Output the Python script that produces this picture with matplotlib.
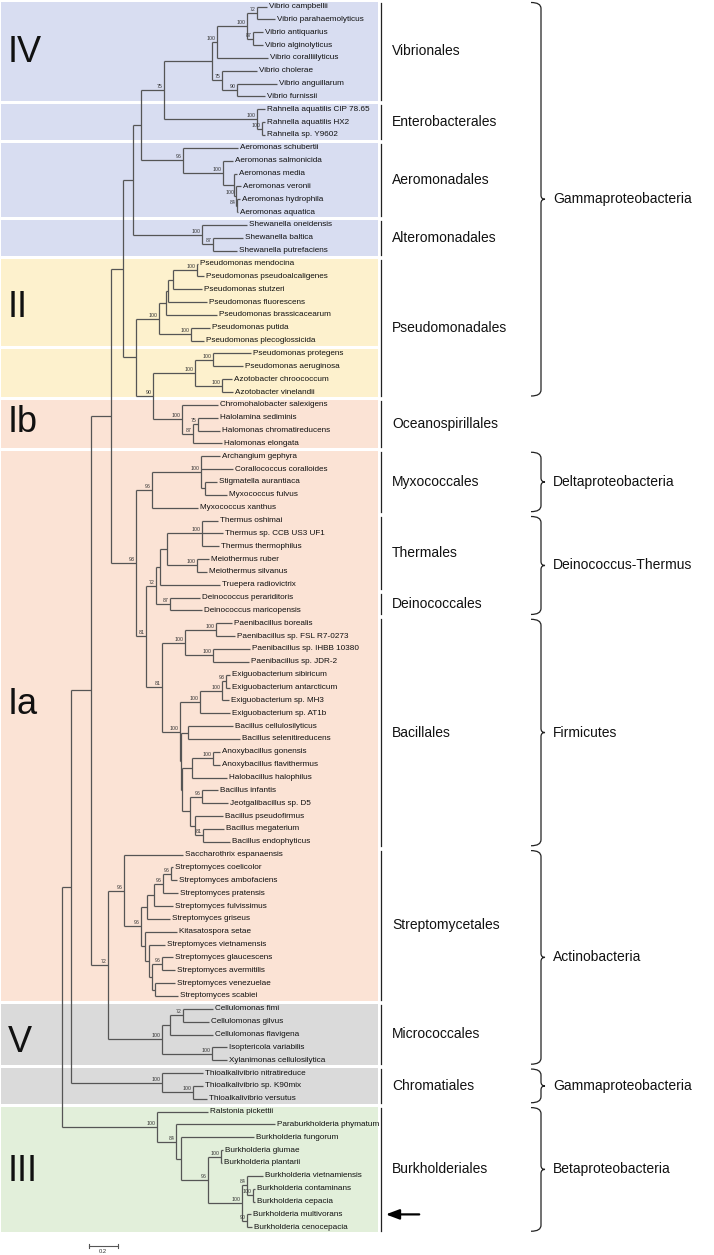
"""
Phylogenetic tree with order / class annotations (MEGA-style layout).
"""
import matplotlib
matplotlib.use("Agg")
import matplotlib.pyplot as plt
from matplotlib.collections import LineCollection
from matplotlib.patches import Rectangle, PathPatch
from matplotlib.path import Path

plt.rcParams["font.family"] = ["Liberation Sans", "DejaVu Sans"]

# ──────────────────────────────────────────────────────────────────────
# Tree data (Newick, branch lengths in substitutions/site, bootstrap as node labels)
# ──────────────────────────────────────────────────────────────────────

VIBRIONALES = ("((((Vibrio campbellii:0.070,Vibrio parahaemolyticus:0.126)72:0.070,"
               "(Vibrio antiquarius:0.070,Vibrio alginolyticus:0.070)87:0.042)100:0.210,"
               "Vibrio coralliilyticus:0.357)100:0.035,(Vibrio cholerae:0.245,"
               "(Vibrio anguillarum:0.280,Vibrio furnissii:0.196)90:0.105)75:0.070)")
ENTEROBACTERALES = ("(Rahnella aquatilis CIP 78.65:0.056,(Rahnella aquatilis HX2:0.021,"
                    "Rahnella sp. Y9602:0.021)100:0.035)")
AEROMONADALES = ("(Aeromonas schubertii:0.385,(Aeromonas salmonicida:0.070,(Aeromonas media:0.021,"
                 "(Aeromonas veronii:0.035,(Aeromonas hydrophila:0.021,Aeromonas aquatica:0.007)84:0.007)"
                 "100:0.014):0.077)100:0.280)")
ALTEROMONADALES = ("(Shewanella oneidensis:0.315,(Shewanella baltica:0.210,"
                   "Shewanella putrefaciens:0.168)87:0.077)")
PSEUDOMONADALES_1 = ("(((((Pseudomonas mendocina:0.007,Pseudomonas pseudoalcaligenes:0.049)100:0.168,"
                     "Pseudomonas stutzeri:0.203):0.035,Pseudomonas fluorescens:0.273):0.014,"
                     "Pseudomonas brassicacearum:0.357):0.049,(Pseudomonas putida:0.133,"
                     "Pseudomonas plecoglossicida:0.091)100:0.224)")
PSEUDOMONADALES_2 = ("((Pseudomonas protegens:0.266,Pseudomonas aeruginosa:0.210)100:0.126,"
                     "(Azotobacter chroococcum:0.070,Azotobacter vinelandii:0.077)100:0.189)")
OCEANOSPIRILLALES = ("(Chromohalobacter salexigens:0.252,((Halolamina sediminis:0.140,"
                     "Halomonas chromatireducens:0.154)75:0.035,Halomonas elongata:0.203)87:0.077)")
MYXOCOCCALES = ("((Archangium gephyra:0.133,Corallococcus coralloides:0.224,(Stigmatella aurantiaca:0.084,"
                "Myxococcus fulvus:0.154):0.028)100:0.343,Myxococcus xanthus:0.322)")
THERMALES = ("(((Thermus oshimai:0.112,Thermus sp. CCB US3 UF1:0.147,Thermus thermophilus:0.119)100:0.245,"
             "(Meiothermus ruber:0.084,Meiothermus silvanus:0.070)100:0.210):0.049,"
             "Truepera radiovictrix:0.420)")
DEINOCOCCALES = "(Deinococcus perariditoris:0.210,Deinococcus maricopensis:0.224)"
BACILLALES = ("(((Paenibacillus borealis:0.112,Paenibacillus sp. FSL R7-0273:0.133)100:0.217,"
              "(Paenibacillus sp. IHBB 10380:0.259,Paenibacillus sp. JDR-2:0.252)100:0.196)100:0.161,"
              "((((Exiguobacterium sibiricum:0.028,Exiguobacterium antarcticum:0.028)93:0.028,"
              "Exiguobacterium sp. MH3:0.049)100:0.154,Exiguobacterium sp. AT1b:0.210)100:0.140,"
              "((Bacillus cellulosilyticus:0.315,Bacillus selenitireducens:0.364):0.049,"
              "(((Anoxybacillus gonensis:0.049,Anoxybacillus flavithermus:0.049)100:0.147,"
              "Halobacillus halophilus:0.245):0.070,((Bacillus infantis:0.112,"
              "Jeotgalibacillus sp. D5:0.182)96:0.084,(Bacillus pseudofirmus:0.196,"
              "(Bacillus megaterium:0.147,Bacillus endophyticus:0.189)81:0.056):0.035):0.056):0.007)"
              ":0.007)100:0.126)")
STREPTOMYCETALES = ("(Saccharothrix espanaensis:0.413,(((((Streptomyces coelicolor:0.014,"
                    "Streptomyces ambofaciens:0.042)96:0.056,Streptomyces pratensis:0.105)96:0.063,"
                    "Streptomyces fulvissimus:0.133):0.049,Streptomyces griseus:0.161):0.042,"
                    "(Kitasatospora setae:0.224,(Streptomyces vietnamensis:0.112,"
                    "((Streptomyces glaucescens:0.077,Streptomyces avermitilis:0.091)96:0.070,"
                    "(Streptomyces venezuelae:0.140,Streptomyces scabiei:0.161):0.021):0.021):0.028)"
                    ":0.028)96:0.119)")
MICROCOCCALES = ("(((Cellulomonas fimi:0.210,Cellulomonas gilvus:0.182)72:0.091,"
                 "Cellulomonas flavigena:0.301):0.056,(Isoptericola variabilis:0.105,"
                 "Xylanimonas cellulosilytica:0.105)100:0.350)")
CHROMATIALES = ("(Thioalkalivibrio nitratireduce:0.287,(Thioalkalivibrio sp. K90mix:0.070,"
                "Thioalkalivibrio versutus:0.098)100:0.217)")
BURKHOLDERIALES = ("(Ralstonia pickettii:0.357,(Paraburkholderia phymatum:0.693,"
                   "(Burkholderia fungorum:0.511,((Burkholderia glumae:0.014,"
                   "Burkholderia plantarii:0.007)100:0.091,((Burkholderia vietnamiensis:0.112,"
                   "(Burkholderia contaminans:0.014,Burkholderia cepacia:0.014)100:0.042)84:0.035,"
                   "(Burkholderia multivorans:0.028,Burkholderia cenocepacia:0.035)90:0.035)"
                   "100:0.238)96:0.189):0.035)84:0.133)")

# backbone joining the orders
N164 = f"({VIBRIONALES}:0.336,{ENTEROBACTERALES}100:0.651)75"
N141 = f"({N164}:0.161,{AEROMONADALES}96:0.294)"
N133 = f"({N141}:0.056,{ALTEROMONADALES}100:0.483)"
N136 = f"({PSEUDOMONADALES_1}100:0.161,({PSEUDOMONADALES_2}100:0.294,{OCEANOSPIRILLALES}100:0.203)90:0.119)"
N123 = f"({N133}:0.070,{N136}:0.091)"
N156 = f"({THERMALES}:0.028,{DEINOCOCCALES}87:0.098)72"
N146 = f"({N156}:0.070,{BACILLALES}81:0.112)81"
N93 = f"({MYXOCOCCALES}96:0.112,{N146}:0.070)93"
N111 = f"({N123}:0.084,{N93}:0.175)"
N108 = f"({STREPTOMYCETALES}96:0.112,{MICROCOCCALES}100:0.378)72"
N91 = f"({N111}:0.140,{N108}:0.119)"
N71 = f"({N91}:0.140,{CHROMATIALES}100:0.637)"
TREE = f"({N71}:0.063,{BURKHOLDERIALES}100:0.665);"

# order blocks: (name, first leaf, last leaf)
ORDERS = ["Vibrionales", "Enterobacterales", "Aeromonadales", "Alteromonadales", "Pseudomonadales",
          "Oceanospirillales", "Myxococcales", "Thermales", "Deinococcales", "Bacillales",
          "Streptomycetales", "Micrococcales", "Chromatiales", "Burkholderiales"]
ORDER_FIRST = [0, 8, 11, 17, 20, 31, 35, 40, 46, 48, 66, 78, 83, 86]
ORDER_LAST = [7, 10, 16, 19, 30, 34, 39, 45, 47, 65, 77, 82, 85, 95]

CLASSES = ["Gammaproteobacteria", "Deltaproteobacteria", "Deinococcus-Thermus", "Firmicutes",
           "Actinobacteria", "Gammaproteobacteria", "Betaproteobacteria"]
CLASS_FIRST = [0, 35, 40, 48, 66, 83, 86]
CLASS_LAST = [30, 39, 47, 65, 82, 85, 95]

# shaded boxes (first leaf, last leaf, group)
BOX_FIRST = [0, 8, 11, 17, 20, 27, 31, 35, 78, 83, 86]
BOX_LAST = [7, 10, 16, 19, 26, 30, 34, 77, 82, 85, 95]
BOX_GROUP = ["IV", "IV", "IV", "IV", "II", "II", "I", "I", "V", "V", "III"]
GROUP_COLORS = {"IV": "#d8ddf1", "II": "#fdf1cd", "I": "#fbe3d5", "V": "#dadada", "III": "#e2efda"}

# roman numerals and their row position
ROMAN = ["IV", "II", "Ib", "Ia", "V", "III"]
ROMAN_ROW = [3.6, 23.4, 32.4, 54.3, 80.6, 90.7]

HIGHLIGHT = "Burkholderia multivorans"
SCALE_BAR = 0.2

# ──────────────────────────────────────────────────────────────────────
# Layout constants (pixels)
# ──────────────────────────────────────────────────────────────────────
W, H = 714, 1255
ROOT_X = 62
PX_PER_UNIT = 1 / 0.007
Y0, DY = 6.5, 12.85
LINE_C = "#555555"


def parse_newick(s):
    pos = 0

    def node():
        nonlocal pos
        n = {"children": [], "name": "", "label": "", "length": 0.0}
        if s[pos] == "(":
            pos += 1
            while True:
                n["children"].append(node())
                if s[pos] == ",":
                    pos += 1
                    continue
                pos += 1  # closing ')'
                break
        start = pos
        while s[pos] not in ":,();":
            pos += 1
        text = s[start:pos].strip()
        if n["children"]:
            n["label"] = text
        else:
            n["name"] = text
        if s[pos] == ":":
            pos += 1
            start = pos
            while s[pos] not in ",();":
                pos += 1
            n["length"] = float(s[start:pos])
        return n

    return node()


leaves = []


def layout(n, x):
    n["x"] = x
    if not n["children"]:
        n["y"] = Y0 + len(leaves) * DY
        leaves.append(n)
    else:
        for c in n["children"]:
            layout(c, x + c["length"] * PX_PER_UNIT)
        n["y"] = (n["children"][0]["y"] + n["children"][-1]["y"]) / 2


def row_y(i):
    return Y0 + i * DY


root = parse_newick(TREE)
layout(root, ROOT_X)

fig = plt.figure(figsize=(W / 100, H / 100), dpi=100)
ax = fig.add_axes([0, 0, 1, 1])
ax.set_xlim(0, W)
ax.set_ylim(H, 0)
ax.axis("off")

# shaded boxes
for a, b, g in zip(BOX_FIRST, BOX_LAST, BOX_GROUP):
    top = row_y(a) - DY / 2 + 1.5
    bot = row_y(b) + DY / 2 - 1.5
    ax.add_patch(Rectangle((1, top), 377, bot - top, fc=GROUP_COLORS[g], ec="none", zorder=0))

for txt, r in zip(ROMAN, ROMAN_ROW):
    ax.text(8, row_y(r), txt, fontsize=26, va="center", ha="left", color="#111111")

# tree branches
segs = []


def draw(n):
    if n["children"]:
        ys = [c["y"] for c in n["children"]]
        segs.append([(n["x"], min(ys)), (n["x"], max(ys))])
        for c in n["children"]:
            segs.append([(n["x"], c["y"]), (c["x"], c["y"])])
            draw(c)
        if n["label"]:
            ax.text(n["x"] - 1.5, n["y"] - 1, n["label"], fontsize=3.8, ha="right", va="bottom",
                    color="#333333")
    else:
        ax.text(n["x"] + 2, n["y"], n["name"], fontsize=5.9, ha="left", va="center", color="#111111")


draw(root)
ax.add_collection(LineCollection(segs, colors=LINE_C, linewidths=0.9, zorder=2))

# order labels with vertical bars
for name, a, b in zip(ORDERS, ORDER_FIRST, ORDER_LAST):
    ya, yb = row_y(a) - 4, row_y(b) + 4
    ax.plot([381, 381], [ya, yb], color="#222222", lw=0.9)
    ax.text(392, (ya + yb) / 2, name, fontsize=10, va="center", ha="left", color="#111111")


def brace(x, y0, y1, w=10, bump=4):
    ym = (y0 + y1) / 2
    verts = [(x - w, y0), (x, y0), (x, y0 + 6), (x, ym - 4), (x, ym), (x + bump, ym),
             (x, ym), (x, ym + 4), (x, y1 - 6), (x, y1), (x - w, y1)]
    codes = [Path.MOVETO, Path.CURVE3, Path.CURVE3, Path.LINETO, Path.CURVE3, Path.CURVE3,
             Path.CURVE3, Path.CURVE3, Path.LINETO, Path.CURVE3, Path.CURVE3]
    ax.add_patch(PathPatch(Path(verts, codes), fc="none", ec="#222222", lw=0.9))


for name, a, b in zip(CLASSES, CLASS_FIRST, CLASS_LAST):
    ya, yb = row_y(a) - 4, row_y(b) + 4
    brace(541, ya, yb)
    ax.text(553, (ya + yb) / 2, name, fontsize=10, va="center", ha="left", color="#111111")

# arrow pointing at the highlighted strain
hl = [l for l in leaves if l["name"] == HIGHLIGHT][0]
ax.annotate("", xy=(383, hl["y"]), xytext=(422, hl["y"]),
            arrowprops=dict(arrowstyle="-|>,head_length=0.8,head_width=0.3", color="black", lw=1.6))

# scale bar
sx, sy = 89, 1246
bar = SCALE_BAR * PX_PER_UNIT
ax.plot([sx, sx + bar], [sy, sy], color="#555555", lw=0.8)
ax.plot([sx, sx], [sy - 2, sy + 2], color="#555555", lw=0.8)
ax.plot([sx + bar, sx + bar], [sy - 2, sy + 2], color="#555555", lw=0.8)
ax.text(sx + bar / 2, sy + 3, f"{SCALE_BAR}", fontsize=4.2, ha="center", va="top", color="#333333")

fig.savefig("out.png", dpi=100)
